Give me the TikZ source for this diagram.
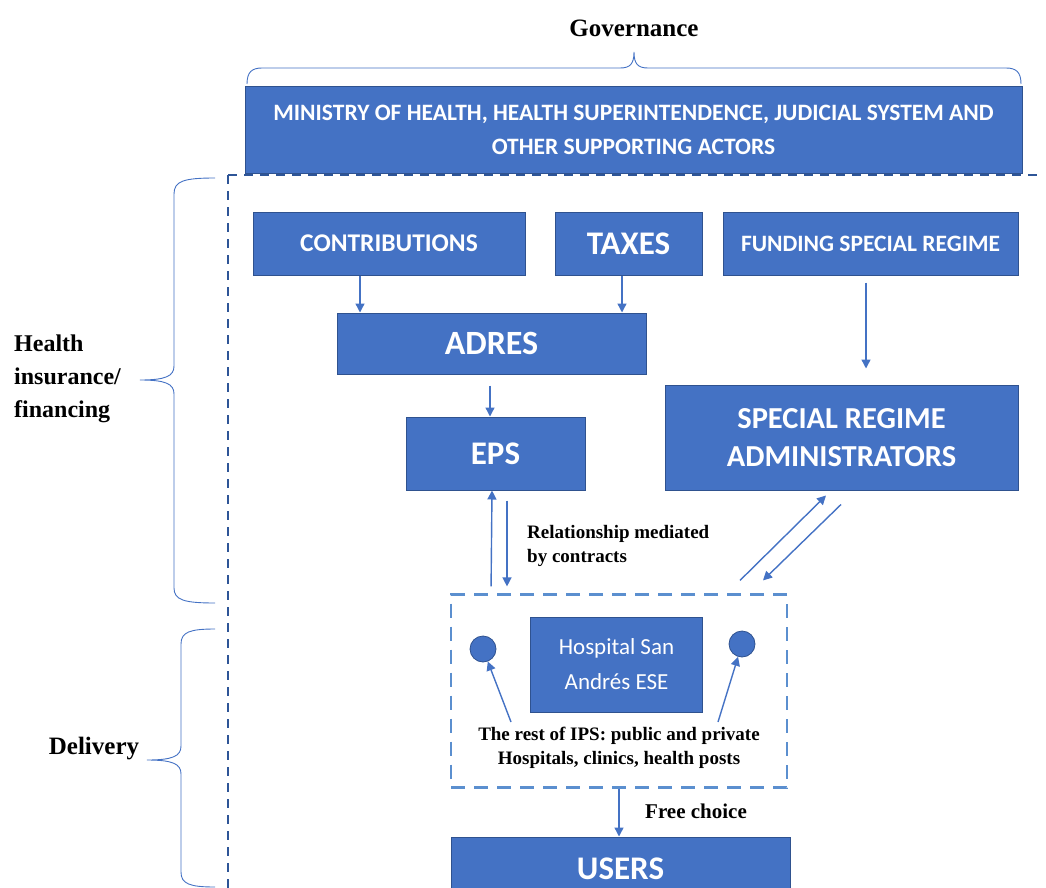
\documentclass[tikz,border=0pt]{standalone}
\usepackage{fontspec}
\setmainfont{Liberation Serif}
\newfontfamily\boxfont{Carlito}
\usetikzlibrary{arrows.meta}
\definecolor{boxblue}{HTML}{4472C4}
\definecolor{boxedge}{HTML}{2F528F}
\definecolor{framedark}{HTML}{2E5597}
\definecolor{ipsdash}{HTML}{5B8FCF}
\newcommand{\fsz}[2]{\fontsize{#1}{#2}\selectfont}
\begin{document}
\begin{tikzpicture}[x=1pt, y=-1pt,
  box/.style={draw=boxedge, line width=1pt, fill=boxblue, text=white,
    align=center, inner sep=0pt},
  bfbox/.style={box, font=\boxfont\bfseries\fsz{#1}{#1}},
  lbl/.style 2 args={font=\bfseries\fsz{#1}{#2}, inner sep=0pt},
  arr/.style={-{Triangle[width=9pt,length=9pt]}, line width=1.4pt, draw=boxblue},
  brc/.style={draw=boxblue, line width=0.9pt},
  frame/.style={draw=framedark, line width=2.6pt, dash pattern=on 9pt off 7pt},
  ipsbox/.style={draw=ipsdash, line width=2.2pt, dash pattern=on 14pt off 9pt},
  dot/.style={circle, draw=boxedge, line width=0.8pt, fill=boxblue,
    minimum size=26pt, inner sep=0pt}
]
\useasboundingbox (0,0) rectangle (1046,888);
% governance
\node[lbl={25}{30}] (gov) at (634,28) {Governance};
\node[box, font=\boxfont\bfseries\fsz{23.5}{34}, minimum width=777, minimum height=87]
  (moh) at (633.5,130)
  {MINISTRY OF HEALTH, HEALTH SUPERINTENDENCE, JUDICIAL SYSTEM AND\\OTHER SUPPORTING ACTORS};
\draw[brc] (247,84) .. controls (247,72) and (252,68) .. (262,68) -- (620,68)
  .. controls (630,68) and (634,64) .. (634,52)
  .. controls (634,64) and (638,68) .. (648,68) -- (1006,68)
  .. controls (1016,68) and (1021,72) .. (1021,84);
\draw[frame] (228,175) -- (1040,175);
\draw[frame] (228,175) -- (228,888);
% financing
\node[bfbox=25.5, minimum width=272, minimum height=63] (contrib) at (389,243.5) {CONTRIBUTIONS};
\node[bfbox=33, minimum width=147, minimum height=63] (taxes) at (628.5,243.5) {TAXES};
\node[bfbox=23.5, minimum width=295, minimum height=63] (fund) at (870.5,243.5) {FUNDING SPECIAL REGIME};
\node[bfbox=34, minimum width=309, minimum height=61] (adres) at (491.5,343.5) {ADRES};
\node[bfbox=33, minimum width=179, minimum height=73] (eps) at (495.5,453.5) {EPS};
\node[box, font=\boxfont\bfseries\fsz{30.5}{38}, minimum width=353, minimum height=105]
  (sra) at (841.5,437.5) {SPECIAL REGIME\\ADMINISTRATORS};
\draw[arr] ([xshift=-29pt]contrib.south) -- ([xshift=-131.5pt]adres.north);
\draw[arr] ([xshift=-6.5pt]taxes.south) -- ([xshift=130.5pt]adres.north);
\draw[arr, shorten <=7pt, shorten >=16pt] ([xshift=-4.5pt]fund.south) -- ([xshift=24.5pt]sra.north);
\draw[arr, shorten <=11pt] ([xshift=-1.5pt]adres.south) -- ([xshift=-5.5pt]eps.north);
% delivery
\node[ipsbox, minimum width=336, minimum height=193, inner sep=0pt] (ips) at (619,691) {};
\node[box, font=\boxfont\fsz{23}{35}, minimum width=172, minimum height=95]
  (hsa) at (616.5,664.5) {Hospital San\\Andrés ESE};
\node[dot] (lc) at (483,649) {};
\node[dot] (rc) at (742,644) {};
\node[lbl={19}{24}, align=center] (ipstxt) at (619,748) {The rest of IPS: public and private\\Hospitals, clinics, health posts};
\draw[arr] ([shift={(-108,-26)}]ipstxt.center) -- (lc);
\draw[arr] ([shift={(99,-26)}]ipstxt.center) -- (rc);
\node[bfbox=33, minimum width=339, minimum height=64] (users) at (620.5,869) {USERS};
\draw[arr] (ips.south) -- (ips.south |- users.north);
\node[lbl={21}{25}] (free) at (696,811) {Free choice};
% contracts
\draw[arr, shorten <=7pt] ([xshift=-128pt]ips.north) -- ([xshift=-3.5pt]eps.south);
\draw[arr, shorten <=10pt, shorten >=7pt] ([xshift=11.5pt]eps.south) -- ([xshift=-112pt]ips.north);
\node[lbl={19}{24}, anchor=west, align=left] (rel) at (527,546) {Relationship mediated\\by contracts};
\draw[arr] ([shift={(121,-13)}]ips.north) -- ([shift={(-15.5,5)}]sra.south);
\draw[arr] ([shift={(-0.5,14)}]sra.south) -- ([shift={(144,-13)}]ips.north);
% side braces
\node[lbl={24}{33}, anchor=west, align=left] (hif) at (14,379) {Health\\insurance/\\financing};
\draw[brc] (215,178) .. controls (184,178) and (174,181) .. (174,194) -- (174,366)
  .. controls (174,376) and (166,380) .. (140,380)
  .. controls (166,380) and (174,384) .. (174,394) -- (174,588)
  .. controls (174,600) and (184,603) .. (215,603);
\node[lbl={25}{30}] (del) at (94,749) {Delivery};
\draw[brc] (215,629) .. controls (190,629) and (181,632) .. (181,644) -- (181,746)
  .. controls (181,756) and (173,760) .. (147,760)
  .. controls (173,760) and (181,764) .. (181,774) -- (181,872)
  .. controls (181,884) and (190,887) .. (215,887);
\end{tikzpicture}
\end{document}
